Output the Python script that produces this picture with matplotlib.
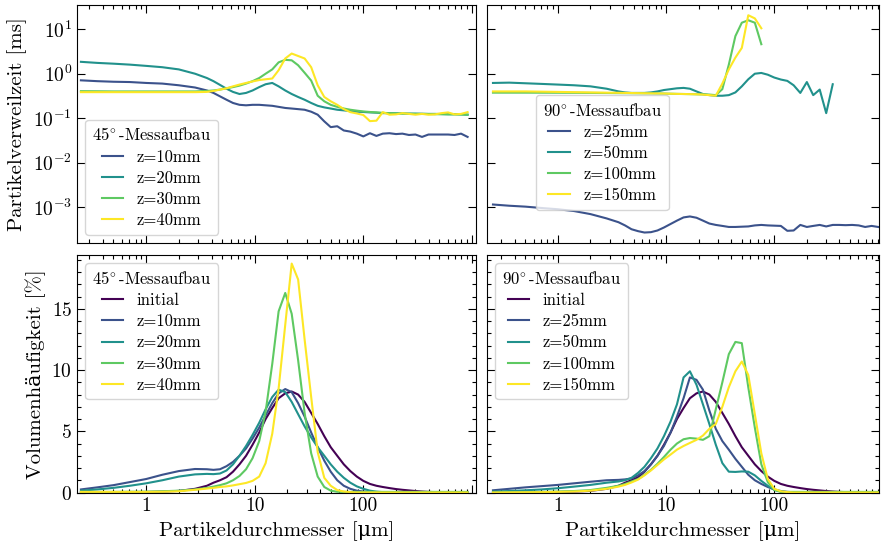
import numpy as np
import matplotlib
matplotlib.use("Agg")
import matplotlib.pyplot as plt
from matplotlib.ticker import (LogLocator, NullLocator, MultipleLocator,
                               FuncFormatter, NullFormatter)

# particle diameter grid [µm]
d = [0.251, 0.355, 0.501, 0.708, 1.0, 1.41, 2.0, 2.82,
     3.63, 4.17, 4.79, 5.5, 6.31, 7.24, 8.32, 9.55, 11.0, 12.6, 14.5, 16.6,
     19.1, 21.9, 25.1, 28.8, 33.1, 38.0, 43.7, 50.1, 57.5, 66.1, 75.9, 87.1,
     100, 115, 132, 151, 174, 200, 229, 263, 302, 347, 398, 457, 525, 603,
     692, 794, 912]

# ---- residence time [ms], 45° setup
t45_z10 = [0.71, 0.68, 0.66, 0.65, 0.62, 0.60, 0.55, 0.49,
           0.42, 0.37, 0.31, 0.26, 0.22, 0.20, 0.195, 0.20, 0.20, 0.195, 0.19, 0.18,
           0.17, 0.165, 0.16, 0.155, 0.14, 0.12, 0.085, 0.063, 0.066, 0.053, 0.050, 0.045,
           0.039, 0.046, 0.040, 0.045, 0.046, 0.044, 0.045, 0.042, 0.043, 0.038, 0.043, 0.043,
           0.043, 0.043, 0.042, 0.045, 0.038]
t45_z20 = [1.85, 1.75, 1.68, 1.60, 1.50, 1.40, 1.25, 1.00,
           0.80, 0.68, 0.56, 0.46, 0.39, 0.35, 0.37, 0.42, 0.50, 0.58, 0.62, 0.52,
           0.42, 0.35, 0.30, 0.26, 0.22, 0.19, 0.175, 0.165, 0.155, 0.150, 0.145, 0.140,
           0.138, 0.135, 0.133, 0.130, 0.130, 0.129, 0.128, 0.127, 0.127, 0.126, 0.125, 0.125,
           0.124, 0.123, 0.123, 0.122, 0.120]
t45_z30 = [0.405, 0.403, 0.40, 0.40, 0.40, 0.40, 0.40, 0.40,
           0.41, 0.42, 0.44, 0.47, 0.50, 0.54, 0.60, 0.68, 0.80, 1.00, 1.25, 1.80,
           2.05, 2.00, 1.55, 1.05, 0.70, 0.32, 0.24, 0.20, 0.18, 0.165, 0.155, 0.148,
           0.142, 0.138, 0.135, 0.132, 0.130, 0.128, 0.127, 0.126, 0.125, 0.125, 0.124, 0.123,
           0.123, 0.122, 0.122, 0.121, 0.120]
t45_z40 = [0.385, 0.385, 0.385, 0.385, 0.385, 0.385, 0.385, 0.385,
           0.39, 0.41, 0.44, 0.47, 0.52, 0.57, 0.62, 0.67, 0.72, 0.75, 0.78, 1.20,
           2.20, 2.84, 2.50, 2.20, 1.40, 0.55, 0.30, 0.24, 0.20, 0.16, 0.137, 0.128,
           0.118, 0.086, 0.088, 0.137, 0.120, 0.122, 0.130, 0.125, 0.120, 0.125, 0.120, 0.122,
           0.130, 0.135, 0.122, 0.125, 0.137]

# ---- residence time [ms], 90° setup
t90_z25 = [1.15e-3, 1.08e-3, 1.03e-3, 9.6e-4, 9.0e-4, 8.2e-4, 7.0e-4, 5.6e-4,
           4.6e-4, 3.9e-4, 3.2e-4, 2.9e-4, 2.7e-4, 2.75e-4, 3.0e-4, 3.5e-4, 4.2e-4, 5.0e-4,
           5.9e-4, 6.2e-4, 5.8e-4, 5.0e-4, 4.3e-4, 4.0e-4, 3.8e-4, 3.6e-4, 3.6e-4, 3.65e-4,
           3.7e-4, 3.9e-4, 4.0e-4, 3.9e-4, 3.85e-4, 3.8e-4, 2.95e-4, 3.0e-4, 4.0e-4, 3.6e-4,
           3.8e-4, 4.0e-4, 3.7e-4, 4.0e-4, 4.0e-4, 3.95e-4, 4.0e-4, 3.9e-4, 3.6e-4, 3.8e-4,
           3.6e-4]
t90_z50 = [0.62, 0.63, 0.61, 0.59, 0.57, 0.55, 0.52, 0.46,
           0.40, 0.38, 0.37, 0.37, 0.37, 0.38, 0.40, 0.43, 0.45, 0.47, 0.48, 0.46,
           0.40, 0.35, 0.33, 0.32, 0.32, 0.33, 0.38, 0.52, 0.75, 1.00, 1.04, 0.95,
           0.82, 0.74, 0.69, 0.55, 0.37, 0.65, 0.33, 0.44, 0.13, 0.58]
t90_z100 = [0.375, 0.375, 0.375, 0.374, 0.373, 0.372, 0.370, 0.368,
            0.366, 0.365, 0.364, 0.363, 0.362, 0.362, 0.360, 0.358, 0.355, 0.352, 0.350, 0.348,
            0.345, 0.342, 0.340, 0.330, 0.45, 1.6, 7.0, 14.0, 15.9, 14.0, 4.6]
t90_z150 = [0.40, 0.40, 0.40, 0.395, 0.39, 0.385, 0.38, 0.375,
            0.372, 0.37, 0.368, 0.366, 0.364, 0.362, 0.36, 0.358, 0.355, 0.352, 0.35, 0.348,
            0.345, 0.34, 0.33, 0.32, 0.60, 1.25, 2.3, 3.8, 20.6, 17.5, 10.5]

# ---- volume frequency [%]
q_initial = [0.0, 0.0, 0.01, 0.02, 0.04, 0.07, 0.13, 0.30,
             0.55, 0.80, 1.00, 1.25, 1.70, 2.30, 3.00, 3.90, 4.90, 6.00, 6.90, 7.70,
             8.10, 8.25, 8.00, 7.40, 6.50, 5.60, 4.60, 3.70, 3.00, 2.30, 1.75, 1.30,
             0.95, 0.70, 0.55, 0.45, 0.36, 0.28, 0.22, 0.17, 0.12, 0.08, 0.05, 0.03,
             0.01, 0.0, 0.0, 0.0, 0.0]
q45_z10 = [0.25, 0.42, 0.60, 0.85, 1.10, 1.45, 1.75, 1.92,
           1.90, 1.85, 1.90, 2.15, 2.50, 3.00, 3.60, 4.40, 5.30, 6.30, 7.30, 8.10,
           8.45, 8.20, 7.30, 6.20, 4.90, 3.70, 2.60, 1.70, 1.00, 0.55, 0.30, 0.15,
           0.08, 0.04, 0.02, 0.01, 0.0, 0.0, 0.0, 0.0, 0.0, 0.0, 0.0, 0.0,
           0.0, 0.0, 0.0, 0.0, 0.0]
q45_z20 = [0.15, 0.25, 0.38, 0.55, 0.75, 1.00, 1.30, 1.48,
           1.52, 1.50, 1.55, 1.80, 2.30, 3.00, 3.80, 4.70, 5.70, 6.80, 7.80, 8.40,
           8.20, 7.40, 6.40, 5.40, 4.50, 3.70, 3.00, 2.30, 1.70, 1.20, 0.80, 0.50,
           0.30, 0.15, 0.07, 0.03, 0.0, 0.0, 0.0, 0.0, 0.0, 0.0, 0.0, 0.0,
           0.0, 0.0, 0.0, 0.0, 0.0]
q45_z30 = [0.05, 0.05, 0.05, 0.06, 0.07, 0.10, 0.15, 0.25,
           0.38, 0.48, 0.60, 0.75, 1.00, 1.35, 1.90, 2.80, 4.20, 6.60, 10.5, 14.8,
           16.3, 14.6, 10.8, 6.50, 3.20, 1.30, 0.45, 0.15, 0.06, 0.05, 0.05, 0.05,
           0.05, 0.05, 0.05, 0.05, 0.05, 0.05, 0.05, 0.05, 0.05, 0.05, 0.05, 0.05,
           0.05, 0.05, 0.05, 0.05, 0.05]
q45_z40 = [0.05, 0.05, 0.05, 0.05, 0.05, 0.06, 0.10, 0.22,
           0.32, 0.38, 0.45, 0.50, 0.58, 0.68, 0.78, 0.95, 1.30, 2.40, 4.80, 8.50,
           13.7, 18.7, 17.4, 12.5, 7.80, 3.30, 1.20, 0.55, 0.20, 0.08, 0.03, 0.0,
           0.0, 0.0, 0.0, 0.0, 0.0, 0.0, 0.0, 0.0, 0.0, 0.0, 0.0, 0.0,
           0.0, 0.0, 0.0, 0.0, 0.0]
q90_z25 = [0.18, 0.30, 0.42, 0.52, 0.62, 0.75, 0.88, 1.00,
           1.03, 1.07, 1.15, 1.40, 1.75, 2.30, 3.00, 3.80, 4.90, 6.20, 7.70, 9.40,
           9.20, 8.40, 6.70, 5.20, 4.20, 3.50, 2.75, 2.10, 1.45, 1.00, 0.70, 0.45,
           0.25, 0.12, 0.05, 0.02, 0.0, 0.0, 0.0, 0.0, 0.0, 0.0, 0.0, 0.0,
           0.0, 0.0, 0.0, 0.0, 0.0]
q90_z50 = [0.08, 0.12, 0.18, 0.25, 0.35, 0.48, 0.62, 0.80,
           0.90, 1.00, 1.20, 1.60, 2.10, 2.80, 3.60, 4.60, 5.80, 7.20, 9.40, 9.90,
           8.80, 7.20, 5.60, 3.90, 2.40, 1.70, 1.68, 1.72, 1.70, 1.40, 0.95, 0.55,
           0.22, 0.08, 0.03, 0.0, 0.0, 0.0, 0.0, 0.0, 0.0, 0.0, 0.0, 0.0,
           0.0, 0.0, 0.0, 0.0, 0.0]
q90_z100 = [0.0, 0.02, 0.03, 0.05, 0.08, 0.12, 0.20, 0.38,
            0.55, 0.70, 0.90, 1.10, 1.45, 1.85, 2.35, 2.90, 3.50, 4.00, 4.35, 4.45,
            4.40, 4.30, 4.60, 6.80, 9.00, 11.3, 12.3, 12.2, 8.60, 5.30, 2.30, 0.85,
            0.20, 0.05, 0.05, 0.05, 0.05, 0.05, 0.05, 0.05, 0.05, 0.05, 0.05, 0.05,
            0.05, 0.05, 0.05, 0.05, 0.05]
q90_z150 = [0.0, 0.01, 0.02, 0.03, 0.05, 0.08, 0.15, 0.30,
            0.48, 0.62, 0.82, 1.05, 1.40, 1.80, 2.25, 2.70, 3.10, 3.50, 3.80, 4.05,
            4.30, 4.65, 5.20, 5.60, 7.00, 8.60, 9.90, 10.7, 9.60, 6.40, 3.20, 1.10,
            0.30, 0.10, 0.03, 0.0, 0.0, 0.0, 0.0, 0.0, 0.0, 0.0, 0.0, 0.0,
            0.0, 0.0, 0.0, 0.0, 0.0]

cmap = plt.get_cmap("viridis")
c_init, c1, c2, c3, c4 = [cmap(v) for v in (0.0, 0.25, 0.5, 0.75, 1.0)]

plt.rcParams.update({
    "font.family": ["cmr10", "DejaVu Serif"],
    "mathtext.fontset": "cm",
    "axes.unicode_minus": False,
    "axes.formatter.use_mathtext": True,
    "xtick.direction": "in", "ytick.direction": "in",
    "xtick.top": True, "ytick.right": True,
    "xtick.major.size": 6, "ytick.major.size": 6,
    "xtick.minor.size": 3, "ytick.minor.size": 3,
    "xtick.major.width": 0.8, "ytick.major.width": 0.8,
    "xtick.minor.width": 0.8, "ytick.minor.width": 0.8,
    "axes.linewidth": 0.8,
    "xtick.labelsize": 14, "ytick.labelsize": 14,
    "axes.labelsize": 15,
    "legend.fontsize": 12, "legend.title_fontsize": 12,
    "lines.linewidth": 1.5,
})

fig = plt.figure(figsize=(8.87, 5.46), dpi=100)
W, H = 887, 546
def box(x0, y0, x1, y1):
    return [x0 / W, 1 - y1 / H, (x1 - x0) / W, (y1 - y0) / H]

ax_tl = fig.add_axes(box(77, 5, 476, 243))
ax_tr = fig.add_axes(box(487, 5, 879, 243))
ax_bl = fig.add_axes(box(77, 255, 476, 492.5))
ax_br = fig.add_axes(box(487, 255, 879, 492.5))

n = len
ax_tl.plot(d[:n(t45_z10)], t45_z10, color=c1, label="z=10mm")
ax_tl.plot(d[:n(t45_z20)], t45_z20, color=c2, label="z=20mm")
ax_tl.plot(d[:n(t45_z30)], t45_z30, color=c3, label="z=30mm")
ax_tl.plot(d[:n(t45_z40)], t45_z40, color=c4, label="z=40mm")

ax_tr.plot(d[:n(t90_z25)], t90_z25, color=c1, label="z=25mm")
ax_tr.plot(d[:n(t90_z50)], t90_z50, color=c2, label="z=50mm")
ax_tr.plot(d[:n(t90_z100)], t90_z100, color=c3, label="z=100mm")
ax_tr.plot(d[:n(t90_z150)], t90_z150, color=c4, label="z=150mm")

ax_bl.plot(d, q_initial, color=c_init, label="initial")
ax_bl.plot(d, q45_z10, color=c1, label="z=10mm")
ax_bl.plot(d, q45_z20, color=c2, label="z=20mm")
ax_bl.plot(d, q45_z30, color=c3, label="z=30mm")
ax_bl.plot(d, q45_z40, color=c4, label="z=40mm")

ax_br.plot(d, q_initial, color=c_init, label="initial")
ax_br.plot(d, q90_z25, color=c1, label="z=25mm")
ax_br.plot(d, q90_z50, color=c2, label="z=50mm")
ax_br.plot(d, q90_z100, color=c3, label="z=100mm")
ax_br.plot(d, q90_z150, color=c4, label="z=150mm")

# only 1, 10 and 100 carry a label on the diameter axis
xfmt = FuncFormatter(lambda v, p: "%g" % v if 0.5 < v < 500 else "")
for ax in (ax_tl, ax_tr, ax_bl, ax_br):
    ax.set_xscale("log")
    ax.xaxis.set_major_locator(LogLocator(base=10))
    ax.xaxis.set_minor_locator(LogLocator(base=10, subs=np.arange(2, 10)))
    ax.xaxis.set_minor_formatter(NullFormatter())
    ax.xaxis.set_major_formatter(xfmt)

for ax in (ax_tl, ax_bl):
    ax.set_xlim(0.231, 1090)
for ax in (ax_tr, ax_br):
    ax.set_xlim(0.221, 929)

for ax in (ax_tl, ax_tr):
    ax.set_yscale("log")
    ax.set_ylim(1.57e-4, 35)
    ax.yaxis.set_major_locator(LogLocator(base=10, numticks=20))
    ax.yaxis.set_minor_locator(NullLocator())
    ax.tick_params(axis="x", labelbottom=False)
ax_tr.tick_params(axis="y", labelleft=False)

for ax in (ax_bl, ax_br):
    ax.set_ylim(0, 19.4)
    ax.yaxis.set_major_locator(MultipleLocator(5))
    ax.yaxis.set_minor_locator(MultipleLocator(1))
    ax.set_xlabel("Partikeldurchmesser [\u03bcm]")
ax_br.tick_params(axis="y", labelleft=False)

ax_tl.set_ylabel("Partikelverweilzeit [ms]")
ax_bl.set_ylabel("Volumenhäufigkeit [%]")
fig.align_ylabels([ax_tl, ax_bl])

legkw = dict(fancybox=True, framealpha=0.8, edgecolor="0.8",
             handlelength=1.3, labelspacing=0.35)
title45 = r"$45^{\!\circ}$-Messaufbau"
title90 = r"$90^{\!\circ}$-Messaufbau"
ax_tl.legend(title=title45, loc="lower left", **legkw)
ax_tr.legend(title=title90, loc="lower left",
             bbox_to_anchor=(0.125, 0.139), borderaxespad=0, **legkw)
ax_bl.legend(title=title45, loc="upper left", **legkw)
ax_br.legend(title=title90, loc="upper left", **legkw)

fig.savefig("out.png", dpi=100)
